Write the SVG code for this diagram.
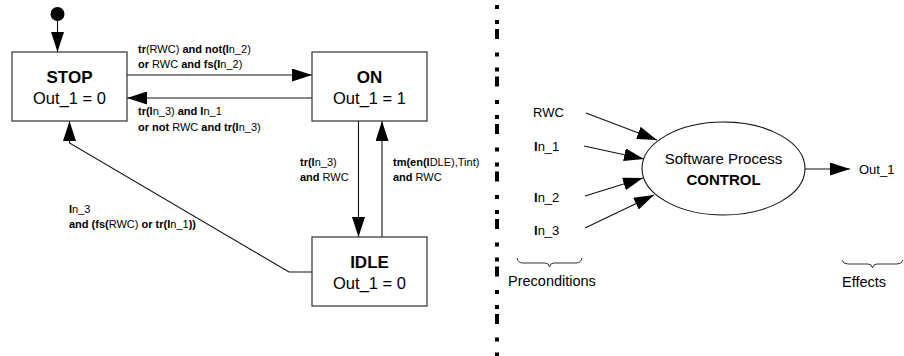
<svg xmlns="http://www.w3.org/2000/svg" width="904" height="356" viewBox="0 0 904 356">
<style>
text{font-family:"Liberation Sans",Arial,sans-serif;fill:#000}
.box{fill:#fff;stroke:#404040;stroke-width:1.3}
.title{font-size:17px;font-weight:bold;text-anchor:middle}
.out{font-size:16.5px;text-anchor:middle}
.lbl{font-size:11px}
.b{font-weight:bold}
.io{font-size:13px}
.cap{font-size:14.5px}
.proc{font-size:15px;text-anchor:middle}
.con{fill:none;stroke:#111;stroke-width:1.1}
.brace{fill:none;stroke:#333;stroke-width:1}
</style>
<defs>
<marker id="ah" markerUnits="userSpaceOnUse" markerWidth="21" markerHeight="13" refX="20" refY="6.5" orient="auto">
<path d="M0,0 L20,6.5 L0,13 z" fill="#000"/>
</marker>
</defs>

<g id="connectors">
<line class="con" x1="57.5" y1="20" x2="57.5" y2="52" marker-end="url(#ah)"/>
<line class="con" x1="127" y1="75" x2="312" y2="75" marker-end="url(#ah)"/>
<line class="con" x1="312" y1="98" x2="127" y2="98" marker-end="url(#ah)"/>
<line class="con" x1="358.5" y1="121" x2="358.5" y2="237" marker-end="url(#ah)"/>
<line class="con" x1="382" y1="237" x2="382" y2="121" marker-end="url(#ah)"/>
<polyline class="con" points="312,272 289,272 69.5,143 69.5,121" marker-end="url(#ah)"/>
<line class="con" x1="586" y1="113" x2="657" y2="140" marker-end="url(#ah)"/>
<line class="con" x1="584" y1="146" x2="644" y2="159" marker-end="url(#ah)"/>
<line class="con" x1="585" y1="196" x2="643" y2="178" marker-end="url(#ah)"/>
<line class="con" x1="585" y1="228" x2="654" y2="195" marker-end="url(#ah)"/>
<line class="con" x1="805" y1="169" x2="850" y2="169" marker-end="url(#ah)"/>
</g>

<g id="initial">
<circle cx="57.5" cy="14" r="7" fill="#000"/>
</g>

<g id="stop">
<rect class="box" x="12" y="52" width="115" height="69"/>
<text class="title" x="69.5" y="83">STOP</text>
<text class="out" x="69.5" y="104">Out_1 = 0</text>
</g>

<g id="on">
<rect class="box" x="312" y="52" width="115" height="69"/>
<text class="title" x="369.5" y="83">ON</text>
<text class="out" x="369.5" y="104">Out_1 = 1</text>
</g>

<g id="idle">
<rect class="box" x="312" y="237" width="115" height="69"/>
<text class="title" x="369.5" y="268">IDLE</text>
<text class="out" x="369.5" y="289">Out_1 = 0</text>
</g>

<g id="labels">
<text class="lbl" x="138" y="53"><tspan class="b">tr</tspan>(RWC) <tspan class="b">and not(I</tspan>n_2)</text>
<text class="lbl" x="138" y="68"><tspan class="b">or</tspan> RWC <tspan class="b">and fs(I</tspan>n_2)</text>
<text class="lbl" x="138" y="115"><tspan class="b">tr(I</tspan>n_3) <tspan class="b">and I</tspan>n_1</text>
<text class="lbl" x="138" y="131"><tspan class="b">or not</tspan> RWC <tspan class="b">and tr(I</tspan>n_3)</text>
<text class="lbl" x="300" y="166"><tspan class="b">tr(I</tspan>n_3)</text>
<text class="lbl" x="300" y="181"><tspan class="b">and</tspan> RWC</text>
<text class="lbl" x="393" y="166"><tspan class="b">tm(en(I</tspan>DLE),Tint)</text>
<text class="lbl" x="393" y="181"><tspan class="b">and</tspan> RWC</text>
<text class="lbl" x="69" y="213"><tspan class="b">I</tspan>n_3</text>
<text class="lbl" x="69" y="228"><tspan class="b">and (fs(</tspan>RWC) <tspan class="b">or tr(I</tspan>n_1<tspan class="b">))</tspan></text>
</g>

<line id="separator" x1="497" y1="5" x2="497" y2="356" stroke="#000" stroke-width="4" stroke-dasharray="4 11 4 5 10 13.5"/>

<g id="process">
<ellipse cx="723.5" cy="168.5" rx="81.5" ry="46.5" fill="#fff" stroke="#111" stroke-width="1.1"/>
<text class="proc" x="723.5" y="164">Software Process</text>
<text class="proc b" x="723.5" y="185">CONTROL</text>
</g>

<g id="inputs">
<text class="io" x="533" y="117">RWC</text>
<text class="io" x="534" y="151"><tspan class="b">I</tspan>n_1</text>
<text class="io" x="534" y="202"><tspan class="b">I</tspan>n_2</text>
<text class="io" x="534" y="235"><tspan class="b">I</tspan>n_3</text>
</g>

<g id="output">
<text class="io" x="859" y="174">Out_1</text>
</g>

<g id="preconditions">
<path class="brace" d="M517,258 Q518,263 523,263 L545,263 Q549,263 549.5,267 Q550,263 554,263 L576,263 Q581,263 582,258"/>
<text class="cap" x="508" y="286">Preconditions</text>
</g>

<g id="effects">
<path class="brace" d="M842,260 Q843,264 848,264 L868,264 Q872,264 872.5,268 Q873,264 877,264 L897,264 Q902,264 903,260"/>
<text class="cap" x="842" y="287">Effects</text>
</g>
</svg>
